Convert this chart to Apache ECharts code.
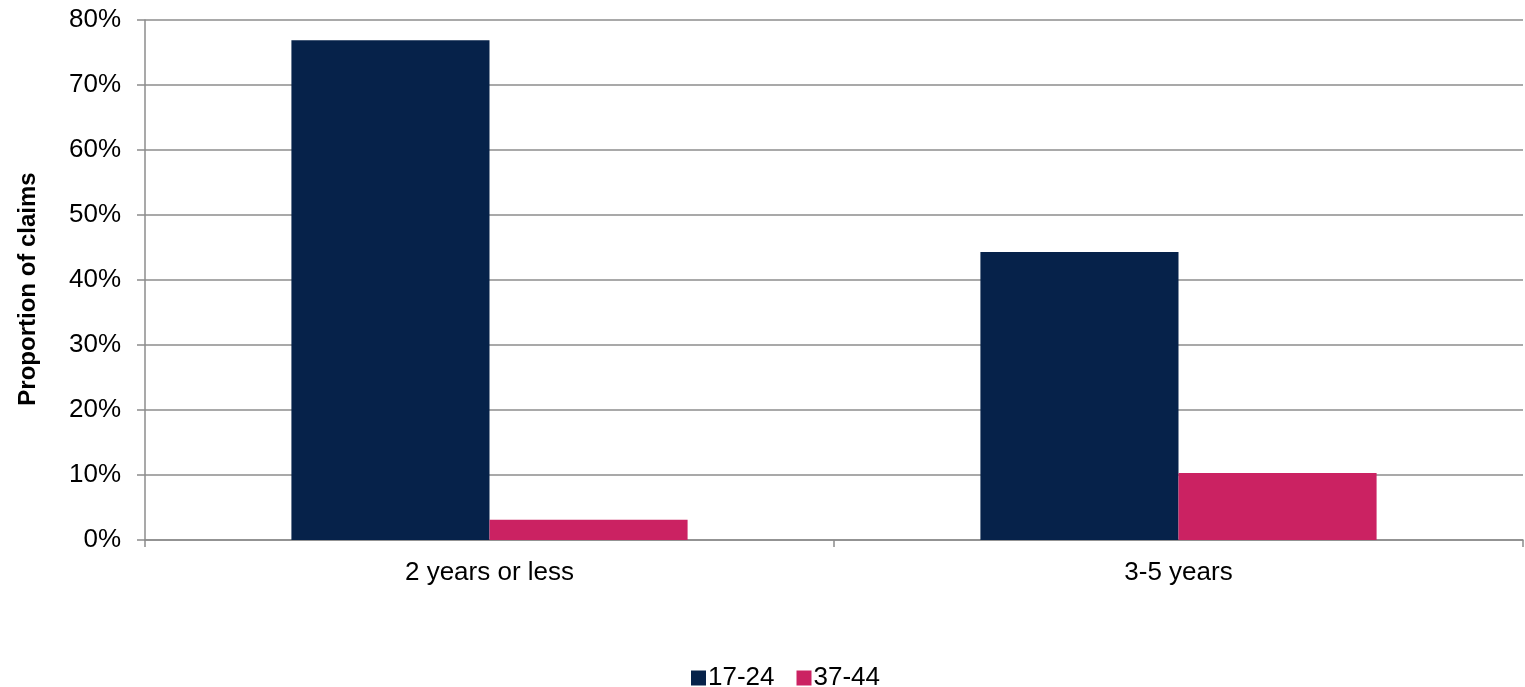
<!DOCTYPE html>
<html>
<head>
<meta charset="utf-8">
<script src="https://cdn.jsdelivr.net/npm/echarts@6/dist/echarts.min.js"></script>
<style>html,body{margin:0;padding:0;background:#fff;}#c{width:1525px;height:687px;}</style>
</head>
<body>
<div id="c"></div>
<script>
var categories = ['2 years or less', '3-5 years'];
var series1Name = '17-24';
var series1 = [76.9, 44.3];
var series2Name = '37-44';
var series2 = [3.1, 10.3];
var yTicks = [0, 10, 20, 30, 40, 50, 60, 70, 80];

var chart = echarts.init(document.getElementById('c'));
var font = 'Liberation Sans, Arial, sans-serif';
chart.setOption({
  animation: false,
  textStyle: {fontFamily: font},
  grid: {left: 145, right: 2, top: 20, bottom: 147},
  legend: {
    bottom: -9, left: 686, itemWidth: 15, itemHeight: 15, itemGap: 22,
    icon: 'rect',
    textStyle: {fontSize: 26, color: '#000', fontFamily: font, padding: [0, 0, 0, -3]},
    data: [series1Name, series2Name]
  },
  xAxis: {
    type: 'category', data: categories,
    axisLine: {lineStyle: {color: '#8c8c8c', width: 1.5}},
    axisTick: {show: true, length: 7, lineStyle: {color: '#8c8c8c', width: 1.5}},
    axisLabel: {fontSize: 26, color: '#000', margin: 20, fontFamily: font}
  },
  yAxis: {
    type: 'value', min: yTicks[0], max: yTicks[yTicks.length - 1], interval: 10,
    name: 'Proportion of claims', nameLocation: 'middle', nameGap: 105,
    nameTextStyle: {fontSize: 24, fontWeight: 'bold', color: '#000', fontFamily: font, padding: [0, 18, 0, 0]},
    axisLine: {show: true, lineStyle: {color: '#8c8c8c', width: 1.5}},
    axisTick: {show: true, length: 8, lineStyle: {color: '#8c8c8c', width: 1.5}},
    axisLabel: {fontSize: 26, color: '#000', margin: 24, formatter: '{value}%', fontFamily: font},
    splitLine: {lineStyle: {color: '#8c8c8c', width: 1.5}}
  },
  series: [
    {name: series1Name, type: 'bar', data: series1, barGap: '0%', barCategoryGap: '42.5%',
     itemStyle: {color: '#06224A'}},
    {name: series2Name, type: 'bar', data: series2, barGap: '0%', barCategoryGap: '42.5%',
     itemStyle: {color: '#CB2262'}}
  ]
});
</script>
</body>
</html>
